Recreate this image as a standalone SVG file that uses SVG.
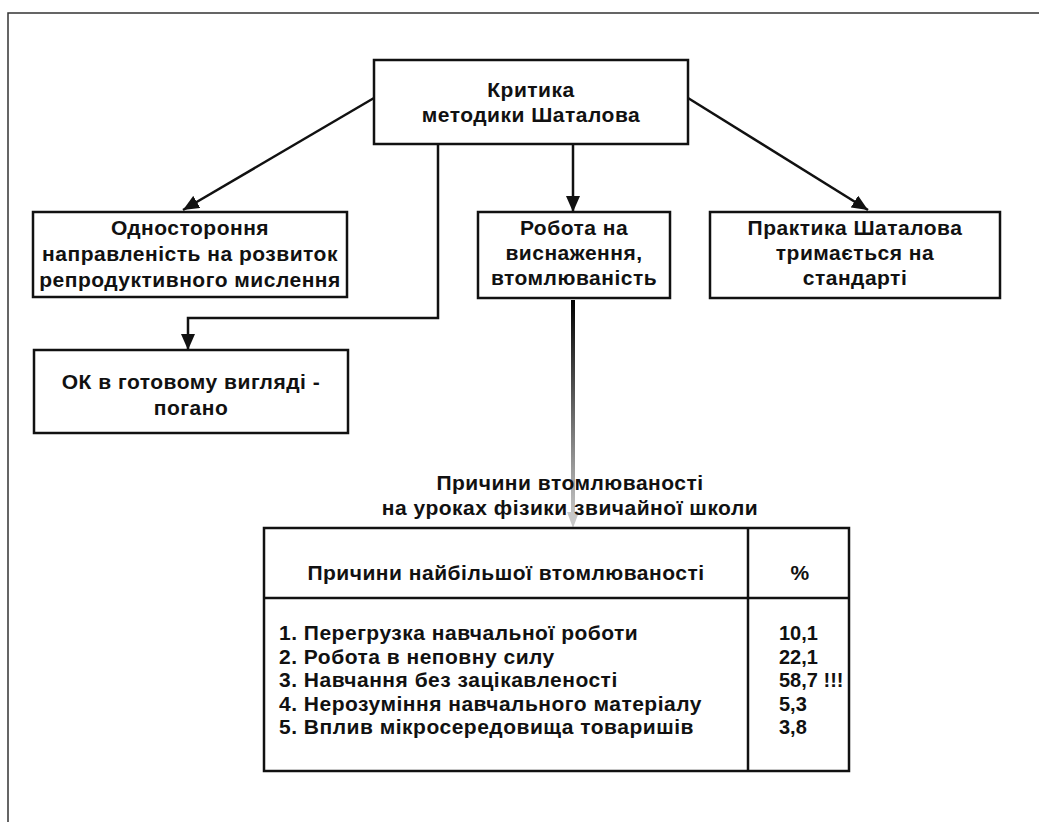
<svg xmlns="http://www.w3.org/2000/svg" width="1039" height="822" viewBox="0 0 1039 822">
<style>
.box{fill:#fff;stroke:#111;stroke-width:2.5}
.t{font-family:"Liberation Sans",Arial,sans-serif;font-weight:bold;font-size:21px;letter-spacing:0.5px;fill:#111;text-anchor:middle}
.tl{font-family:"Liberation Sans",Arial,sans-serif;font-weight:bold;font-size:21px;letter-spacing:0.5px;fill:#111}
.v{font-family:"Liberation Sans",Arial,sans-serif;font-weight:bold;font-size:20px;fill:#111}
.c{fill:none;stroke:#111;stroke-width:2.5}
</style>
<defs>
<marker id="ah" markerUnits="userSpaceOnUse" markerWidth="18" markerHeight="14" refX="16" refY="7" orient="auto">
<path d="M0,0 L16,7 L0,14 Z" fill="#111"/>
</marker>
<linearGradient id="g" x1="0" y1="300" x2="0" y2="528" gradientUnits="userSpaceOnUse">
<stop offset="0" stop-color="#000"/>
<stop offset="1" stop-color="#d0d0d0"/>
</linearGradient>
</defs>
<rect width="1039" height="822" fill="#fff"/>
<path d="M8,822 V13 H1039" fill="none" stroke="#333" stroke-width="1.5"/>

<g id="connectors">
<line class="c" x1="374" y1="98" x2="183" y2="210" marker-end="url(#ah)"/>
<line class="c" x1="688" y1="98" x2="868" y2="210" marker-end="url(#ah)"/>
<line class="c" x1="573" y1="144" x2="573" y2="212" marker-end="url(#ah)"/>
<path class="c" d="M438,144 V318 H188 V350" marker-end="url(#ah)"/>
<rect x="571" y="300" width="4" height="214" fill="url(#g)"/>
<path d="M567,512 L579,512 L573,528 Z" fill="#c8c8c8"/>
</g>

<g id="n-top">
<rect class="box" x="374" y="60" width="314" height="84"/>
<text class="t" x="531" y="97">Критика</text>
<text class="t" x="531" y="122">методики Шаталова</text>
</g>

<g id="n-left">
<rect class="box" x="33" y="212" width="314" height="85"/>
<text class="t" x="190" y="235">Одностороння</text>
<text class="t" x="190" y="261">направленість на розвиток</text>
<text class="t" x="190" y="287">репродуктивного мислення</text>
</g>

<g id="n-mid">
<rect class="box" x="478" y="212" width="192" height="86"/>
<text class="t" x="574" y="235">Робота на</text>
<text class="t" x="574" y="260">виснаження,</text>
<text class="t" x="574" y="285">втомлюваність</text>
</g>

<g id="n-right">
<rect class="box" x="710" y="212" width="290" height="86"/>
<text class="t" x="855" y="235">Практика Шаталова</text>
<text class="t" x="855" y="260">тримається на</text>
<text class="t" x="855" y="285">стандарті</text>
</g>

<g id="n-ok">
<rect class="box" x="34" y="350" width="314" height="83"/>
<text class="t" x="191" y="389">ОК в готовому вигляді -</text>
<text class="t" x="191" y="415">погано</text>
</g>

<g id="n-table">
<text class="t" x="570" y="490">Причини втомлюваності</text>
<text class="t" x="570" y="515">на уроках фізики звичайної школи</text>
<rect class="box" x="264" y="528" width="585" height="243"/>
<line class="c" x1="748" y1="528" x2="748" y2="771"/>
<line class="c" x1="264" y1="598" x2="849" y2="598"/>
<text class="t" x="506" y="580">Причини найбільшої втомлюваності</text>
<text class="t" x="800" y="580">%</text>
<text class="tl" x="279" y="640">1. Перегрузка навчальної роботи</text>
<text class="tl" x="279" y="664">2. Робота в неповну силу</text>
<text class="tl" x="279" y="687">3. Навчання без зацікавленості</text>
<text class="tl" x="279" y="711">4. Нерозуміння навчального матеріалу</text>
<text class="tl" x="279" y="734">5. Вплив мікросередовища товаришів</text>
<text class="v" x="779" y="640">10,1</text>
<text class="v" x="779" y="664">22,1</text>
<text class="v" x="779" y="687">58,7 !!!</text>
<text class="v" x="779" y="711">5,3</text>
<text class="v" x="779" y="734">3,8</text>
</g>
</svg>
